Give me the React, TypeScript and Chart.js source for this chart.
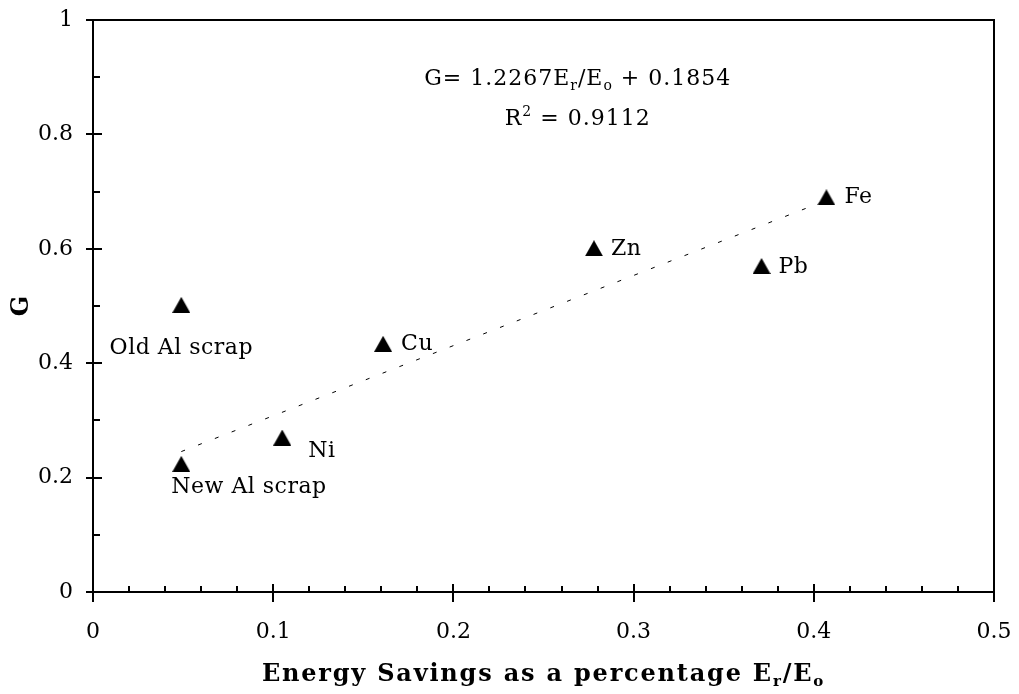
import React, { useEffect, useRef } from "react";
import { Chart, registerables } from "chart.js";

Chart.register(...registerables);

// ---- data ----
const pointNames = ["New Al scrap", "Old Al scrap", "Ni", "Cu", "Zn", "Pb", "Fe"];
const energySavings = [0.049, 0.049, 0.105, 0.161, 0.278, 0.371, 0.407];
const gValues = [0.224, 0.502, 0.27, 0.434, 0.601, 0.57, 0.69];
const trendSlope = 1.2267;
const trendIntercept = 0.1854;
const trendXRange = [0.049, 0.407];
const xTickValues = [0, 0.1, 0.2, 0.3, 0.4, 0.5];
const yTickValues = [0, 0.2, 0.4, 0.6, 0.8, 1];

// ---- styling (label placement relative to marker, in px) ----
const labelPlacement: Record<string, { dx: number; dy: number; align: CanvasTextAlign }> = {
  "New Al scrap": { dx: -10, dy: 23, align: "left" },
  "Old Al scrap": { dx: 0, dy: 43, align: "center" },
  Ni: { dx: 26, dy: 14, align: "left" },
  Cu: { dx: 18, dy: 1, align: "left" },
  Zn: { dx: 17, dy: 1, align: "left" },
  Pb: { dx: 17, dy: 1, align: "left" },
  Fe: { dx: 18, dy: 0, align: "left" },
};

const SERIF = "'DejaVu Serif', serif";

type Seg = { t: string; sub?: boolean; sup?: boolean };

function drawRich(
  ctx: CanvasRenderingContext2D,
  segs: Seg[],
  cx: number,
  baseline: number,
  size: number,
  weight: string,
  spacing: number
) {
  const small = Math.round(size * 0.62);
  const fontFor = (s: Seg) => `${weight} ${s.sub || s.sup ? small : size}px ${SERIF}`;
  (ctx as any).letterSpacing = `${spacing}px`;
  let total = 0;
  const widths = segs.map((s) => {
    ctx.font = fontFor(s);
    const w = ctx.measureText(s.t).width;
    total += w;
    return w;
  });
  let x = cx - total / 2;
  ctx.textAlign = "left";
  ctx.textBaseline = "alphabetic";
  segs.forEach((s, i) => {
    ctx.font = fontFor(s);
    let y = baseline;
    if (s.sub) y += size * 0.22;
    if (s.sup) y -= size * 0.42;
    ctx.fillText(s.t, x, y);
    x += widths[i];
  });
  (ctx as any).letterSpacing = "0px";
}

function makeTriangle(): HTMLCanvasElement {
  const c = document.createElement("canvas");
  c.width = 18;
  c.height = 16;
  const g = c.getContext("2d")!;
  g.fillStyle = "#000";
  g.beginPath();
  g.moveTo(9, 0);
  g.lineTo(18, 16);
  g.lineTo(0, 16);
  g.closePath();
  g.fill();
  return c;
}

const decorPlugin = {
  id: "decor",
  afterDraw(chart: any) {
    const { ctx, chartArea } = chart;
    const xs = chart.scales.x;
    const ys = chart.scales.y;
    const { left, right, top, bottom } = chartArea;
    ctx.save();
    ctx.strokeStyle = "#000";
    ctx.fillStyle = "#000";
    ctx.lineWidth = 2;
    ctx.strokeRect(left, top, right - left, bottom - top);

    // x ticks
    ctx.beginPath();
    for (let i = 0; i <= 25; i++) {
      const v = i * 0.02;
      const px = Math.round(xs.getPixelForValue(v));
      const major = i % 5 === 0;
      ctx.moveTo(px, bottom - (major ? 8 : 6));
      ctx.lineTo(px, bottom + (major ? 10 : 0));
    }
    // y ticks
    for (let i = 0; i <= 10; i++) {
      const v = i * 0.1;
      const py = Math.round(ys.getPixelForValue(v));
      const major = i % 2 === 0;
      ctx.moveTo(left - (major ? 7 : 0), py);
      ctx.lineTo(left + (major ? 9 : 7), py);
    }
    ctx.stroke();

    // point labels
    const meta = chart.getDatasetMeta(1);
    ctx.font = `22px ${SERIF}`;
    ctx.textBaseline = "middle";
    (ctx as any).letterSpacing = "0.5px";
    meta.data.forEach((el: any, i: number) => {
      const name = pointNames[i];
      const p = labelPlacement[name];
      ctx.textAlign = p.align;
      ctx.fillText(name, el.x + p.dx, el.y + p.dy);
    });
    (ctx as any).letterSpacing = "0px";

    // equation
    const ex = xs.getPixelForValue(0.269);
    drawRich(
      ctx,
      [
        { t: "G= 1.2267E" },
        { t: "r", sub: true },
        { t: "/E" },
        { t: "o", sub: true },
        { t: " + 0.1854" },
      ],
      ex,
      ys.getPixelForValue(0.886),
      22,
      "normal",
      1
    );
    drawRich(
      ctx,
      [{ t: "R" }, { t: "2", sup: true }, { t: " = 0.9112" }],
      ex,
      ys.getPixelForValue(0.816),
      22,
      "normal",
      1
    );

    // x axis title
    drawRich(
      ctx,
      [
        { t: "Energy Savings as a percentage E" },
        { t: "r", sub: true },
        { t: "/E" },
        { t: "o", sub: true },
      ],
      (left + right) / 2,
      681,
      24,
      "bold",
      1.8
    );

    // y axis title
    ctx.save();
    ctx.translate(22, (top + bottom) / 2);
    ctx.rotate(-Math.PI / 2);
    ctx.font = `bold 24px ${SERIF}`;
    ctx.textAlign = "center";
    ctx.textBaseline = "middle";
    ctx.fillText("G", 0, 0);
    ctx.restore();

    ctx.restore();
  },
};

const fmt = (v: number) => String(Math.round(v * 10) / 10);

export default function App() {
  const ref = useRef<HTMLCanvasElement | null>(null);
  useEffect(() => {
    if (!ref.current) return;
    const tri = makeTriangle();
    const chart = new Chart(ref.current, {
      type: "scatter",
      data: {
        datasets: [
          {
            label: "trend",
            data: trendXRange.map((x) => ({ x, y: trendSlope * x + trendIntercept })),
            showLine: true,
            borderColor: "#000",
            borderWidth: 1,
            borderDash: [4, 14],
            pointRadius: 0,
            fill: false,
          },
          {
            label: "G",
            data: energySavings.map((x, i) => ({ x, y: gValues[i] })),
            pointStyle: tri as any,
            pointRadius: 9,
            backgroundColor: "#000",
            borderColor: "#000",
          },
        ],
      },
      options: {
        animation: false,
        responsive: true,
        maintainAspectRatio: false,
        events: [],
        layout: { padding: { top: 20, right: 25, left: 0, bottom: 0 } },
        plugins: { legend: { display: false }, tooltip: { enabled: false } },
        scales: {
          x: {
            type: "linear",
            min: 0,
            max: 0.5,
            afterFit: (s: any) => {
              s.height = 102;
              s.paddingLeft = 0;
              s.paddingRight = 0;
            },
            afterBuildTicks: (s: any) => {
              s.ticks = xTickValues.map((value) => ({ value }));
            },
            grid: { display: false, drawTicks: false },
            border: { display: false },
            ticks: {
              padding: 27,
              color: "#000",
              font: { family: SERIF, size: 22 },
              callback: (v: any) => fmt(Number(v)),
              maxRotation: 0,
            },
          },
          y: {
            type: "linear",
            min: 0,
            max: 1,
            afterFit: (s: any) => {
              s.width = 93;
              s.paddingTop = 0;
              s.paddingBottom = 0;
            },
            afterBuildTicks: (s: any) => {
              s.ticks = yTickValues.map((value) => ({ value }));
            },
            grid: { display: false, drawTicks: false },
            border: { display: false },
            ticks: {
              padding: 20,
              color: "#000",
              font: { family: SERIF, size: 22 },
              callback: (v: any) => fmt(Number(v)),
            },
          },
        },
      },
      plugins: [decorPlugin],
    });
    return () => chart.destroy();
  }, []);
  return (
    <div style={{ position: "absolute", left: 0, top: 0, width: 1019, height: 694, background: "#fff" }}>
      <canvas ref={ref} />
    </div>
  );
}
